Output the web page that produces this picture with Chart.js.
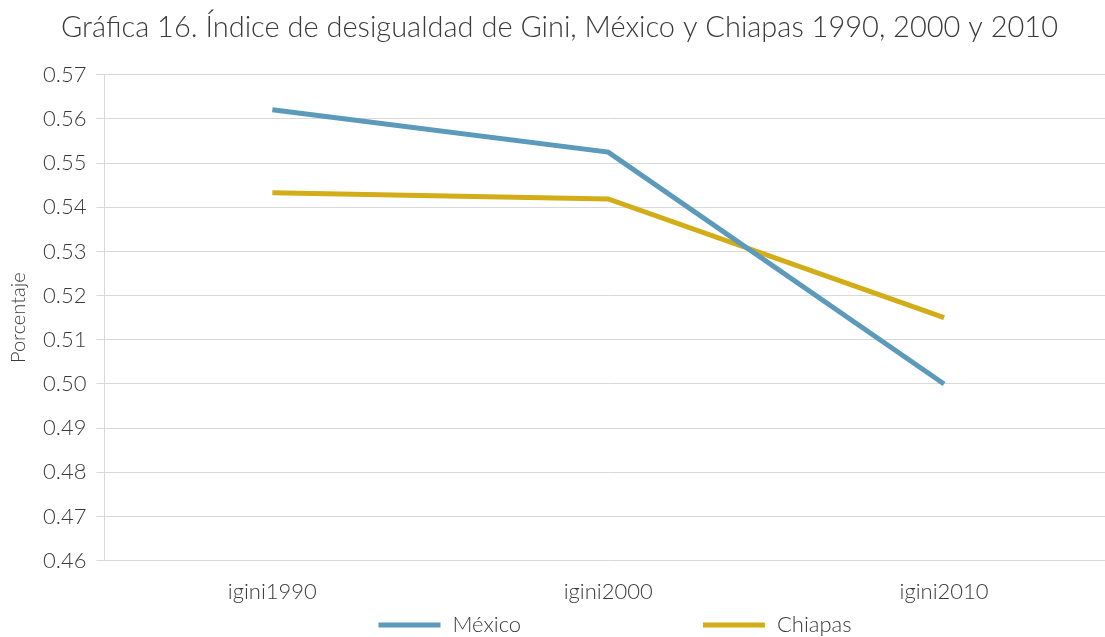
<!DOCTYPE html>
<html>
<head>
<meta charset="utf-8">
<script src="https://cdn.jsdelivr.net/npm/chart.js@4/dist/chart.umd.min.js"></script>
<style>
html,body{margin:0;padding:0;background:#fff;overflow:hidden;}
#wrap{position:relative;width:1112px;height:637px;}
</style>
</head>
<body>
<div id="wrap"><canvas id="c"></canvas></div>
<script>
const categories = ['igini1990', 'igini2000', 'igini2010'];
const mexico = [0.5621, 0.5525, 0.5000];
const chiapas = [0.5433, 0.5419, 0.5150];
const seriesNames = ['México', 'Chiapas'];
const titleText = 'Gráfica 16. Índice de desigualdad de Gini, México y Chiapas 1990, 2000 y 2010';
const yTitle = 'Porcentaje';

const FONT = 'Lato, "Open Sans", sans-serif';
const BLUE = '#5b9aba';
const GOLD = '#d3ad17';
const TXT = '#3a3a3a';

const legendPlugin = {
  id: 'customLegend',
  afterDraw(chart) {
    const ctx = chart.ctx;
    const a = chart.chartArea;
    const w = a.right - a.left;
    const y = 625;
    const items = [
      {label: seriesNames[0], color: BLUE, x: a.left + 0.272 * w},
      {label: seriesNames[1], color: GOLD, x: a.left + 0.594 * w}
    ];
    ctx.save();
    ctx.font = '300 22px ' + FONT;
    ctx.textBaseline = 'middle';
    items.forEach(it => {
      ctx.fillStyle = it.color;
      ctx.fillRect(it.x, y - 2.5, 62, 5);
      ctx.fillStyle = TXT;
      ctx.fillText(it.label, it.x + 74, y);
    });
    ctx.restore();
  }
};

new Chart(document.getElementById('c'), {
  type: 'line',
  data: {
    labels: categories,
    datasets: [
      {label: seriesNames[0], data: mexico, borderColor: BLUE, backgroundColor: BLUE, borderWidth: 5, pointRadius: 0, tension: 0},
      {label: seriesNames[1], data: chiapas, borderColor: GOLD, backgroundColor: GOLD, borderWidth: 5, pointRadius: 0, tension: 0}
    ]
  },
  options: {
    responsive: true,
    maintainAspectRatio: false,
    animation: false,
    layout: {padding: {top: 0, right: 0, bottom: 22, left: 7}},
    plugins: {
      legend: {display: false},
      tooltip: {enabled: false},
      title: {
        display: true,
        text: titleText,
        color: TXT,
        font: {family: FONT, size: 29, weight: 300},
        padding: {top: 10, bottom: 30}
      }
    },
    scales: {
      x: {
        offset: true,
        grid: {display: false},
        border: {display: false},
        ticks: {color: TXT, font: {family: FONT, size: 22, weight: 300}, padding: 10, maxRotation: 0}
      },
      y: {
        min: 0.46,
        max: 0.57,
        grid: {color: '#d9d9d9', lineWidth: 1, tickLength: 8},
        border: {display: true, color: '#d9d9d9'},
        ticks: {
          stepSize: 0.01,
          color: TXT,
          font: {family: FONT, size: 22, weight: 300},
          padding: 10,
          callback: v => Number(v).toFixed(2)
        },
        title: {display: true, text: yTitle, color: TXT, font: {family: FONT, size: 20, weight: 300}, padding: {top: 0, bottom: 2}}
      }
    }
  },
  plugins: [legendPlugin]
});
</script>
</body>
</html>
